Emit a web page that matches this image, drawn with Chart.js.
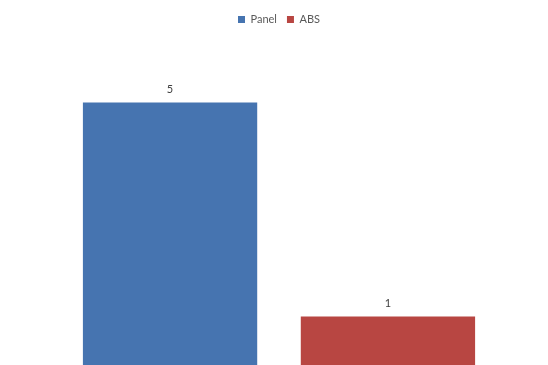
<!DOCTYPE html>
<html>
<head>
<meta charset="utf-8">
<script src="https://cdn.jsdelivr.net/npm/chart.js@4"></script>
<style>
  html, body { margin: 0; padding: 0; background: #fff; overflow: hidden; }
  #wrap { position: relative; width: 548px; height: 370px; }
</style>
</head>
<body>
<div id="wrap"><canvas id="barChart"></canvas></div>
<script>
// one category, one series per item
const categories = [''];
const seriesNames = ['Panel', 'ABS'];
const panelValues = [5];
const absValues = [1];
const seriesColors = ['#4674B0', '#B84642'];

// prints each bar's value just above it
const barValueLabels = {
  id: 'barValueLabels',
  afterDatasetsDraw(chart) {
    const ctx = chart.ctx;
    ctx.save();
    ctx.font = '11px Lato, "DejaVu Sans", sans-serif';
    ctx.fillStyle = '#404040';
    ctx.textAlign = 'center';
    ctx.textBaseline = 'bottom';
    chart.data.datasets.forEach((ds, i) => {
      const meta = chart.getDatasetMeta(i);
      meta.data.forEach((bar, j) => {
        ctx.fillText(String(ds.data[j]), bar.x, bar.y - 8);
      });
    });
    ctx.restore();
  }
};

// extra room between the legend and the plot
const legendGap = {
  id: 'legendGap',
  beforeInit(chart) {
    const origFit = chart.legend.fit;
    chart.legend.fit = function fit() {
      origFit.bind(chart.legend)();
      this.height += 14;
    };
  }
};

new Chart(document.getElementById('barChart'), {
  type: 'bar',
  data: {
    labels: categories,
    datasets: [
      { label: seriesNames[0], data: panelValues, backgroundColor: seriesColors[0] },
      { label: seriesNames[1], data: absValues, backgroundColor: seriesColors[1] }
    ]
  },
  options: {
    responsive: true,
    maintainAspectRatio: false,
    animation: false,
    categoryPercentage: 0.81,
    barPercentage: 0.8,
    layout: { padding: { left: 10, right: 0, top: 4, bottom: 0 } },
    scales: {
      x: { display: false },
      y: { display: false, min: 0, max: 6 }
    },
    plugins: {
      tooltip: { enabled: false },
      legend: {
        position: 'top',
        labels: {
          boxWidth: 7,
          boxHeight: 7,
          padding: 10,
          color: '#595959',
          font: { family: 'Lato, "DejaVu Sans", sans-serif', size: 11 }
        }
      }
    }
  },
  plugins: [barValueLabels, legendGap]
});
</script>
</body>
</html>
